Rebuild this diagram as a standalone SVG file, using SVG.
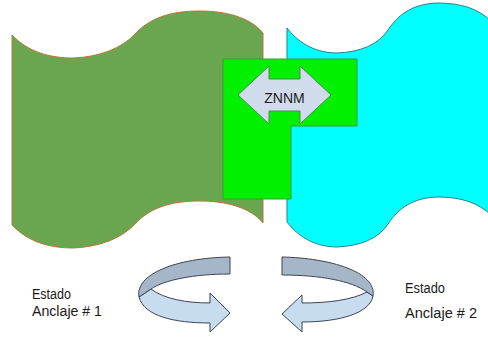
<svg xmlns="http://www.w3.org/2000/svg" width="488" height="339" viewBox="0 0 488 339">
<style>
.lbl{font-family:"Liberation Sans",Arial,sans-serif;font-size:14px;fill:#1a1a1a}
.back{fill:#a6b6c9;stroke:#3c4450;stroke-width:1}
.front{fill:#c8dcf0;stroke:#3c4450;stroke-width:1}
</style>
<rect width="488" height="339" fill="#ffffff"/>
<g id="estado1-region">
<path d="M12,35 C28,52 50,58 73,58 C100,57 122,48 135,34 C150,18 170,11 200,11 C225,11 250,17 263,33 L263,223 C250,207 225,201 200,201 C170,201 150,208 135,224 C122,238 100,247 73,248 C50,248 28,242 12,225 Z" fill="#6aa650" stroke="#b8783e" stroke-width="1"/>
</g>
<g id="estado2-region">
<path d="M287,28 C300,45 318,53 337,53 C360,52 378,45 388,30 C400,12 415,4 437,3 C460,3 478,8 492,22 L492,216 C478,202 460,197 437,197 C415,198 400,206 388,224 C378,239 360,246 337,247 C318,247 300,239 287,222 Z" fill="#00ffff" stroke="#2f7f86" stroke-width="1"/>
</g>
<g id="znnm-zone">
<polygon points="223,59 357,59 357,126 291,126 291,199 223,199" fill="#00f000" stroke="#3a9a3a" stroke-width="1"/>
<polygon points="238,95 269,66 269,79 300,79 300,66 331,95 300,124 300,111 269,111 269,124" fill="#d0dcec" stroke="#4d8a55" stroke-width="1"/>
<text class="lbl" x="284.5" y="103" text-anchor="middle">ZNNM</text>
</g>
<g id="connectors">
<g id="arrow-left">
<path class="front" d="M151,289 C164,299 187,303 210,303 L210,293 L230,313 L210,332 L210,323 C174,323 144,316 139,297 Z"/>
<path class="back" d="M230,257 L230,274 C194,274 164,280 151,289 L139,297 C135,274 176,258 230,257 Z"/>
</g>
<g id="arrow-right">
<path class="front" d="M367,292 C352,300 328,303 302,303 L302,295 L282,314 L302,332 L302,322 C340,322 370,313 373,296 Z"/>
<path class="back" d="M282,257 L282,275 C320,275 352,281 367,292 L373,296 C377,272 330,258 282,257 Z"/>
</g>
</g>
<g id="label-left">
<text class="lbl" x="32" y="299" textLength="39" lengthAdjust="spacingAndGlyphs">Estado</text>
<text class="lbl" x="32" y="316" textLength="70" lengthAdjust="spacingAndGlyphs">Anclaje # 1</text>
</g>
<g id="label-right">
<text class="lbl" x="405" y="293" textLength="40" lengthAdjust="spacingAndGlyphs">Estado</text>
<text class="lbl" x="405" y="318" textLength="72" lengthAdjust="spacingAndGlyphs">Anclaje # 2</text>
</g>
</svg>
